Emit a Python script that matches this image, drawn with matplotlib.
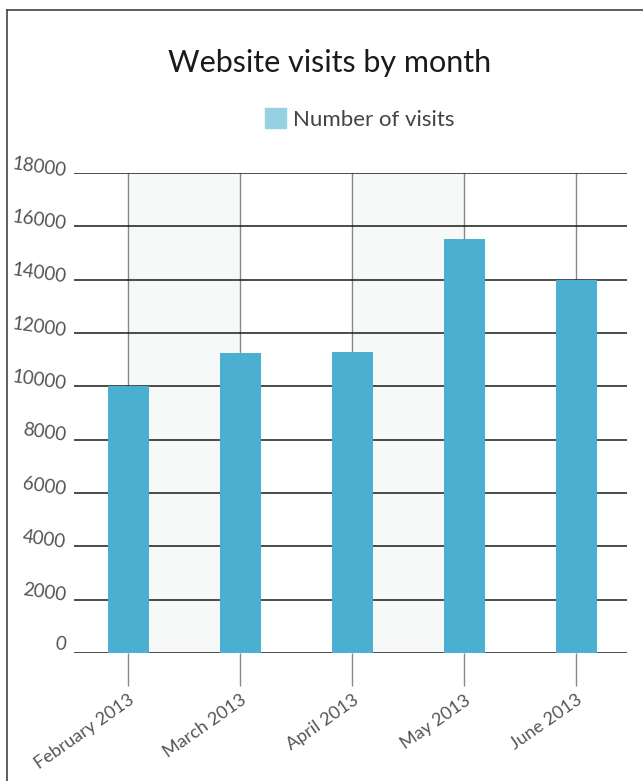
import matplotlib
matplotlib.use('Agg')
import matplotlib.pyplot as plt
from matplotlib.lines import Line2D
from matplotlib.patches import Patch
from matplotlib.transforms import ScaledTranslation

months = ['February 2013', 'March 2013', 'April 2013', 'May 2013', 'June 2013']
visits = [10000, 11250, 11290, 15520, 14000]
y_ticks = [0, 2000, 4000, 6000, 8000, 10000, 12000, 14000, 16000, 18000]

plt.rcParams['font.family'] = ['Lato', 'DejaVu Sans']

fig = plt.figure(figsize=(6.43, 7.81), dpi=100)
ax = fig.add_axes([74 / 643, 128 / 781, 553 / 643, 480 / 781])

x = list(range(len(months)))

# alternating shaded columns
for i in range(0, len(months) - 1, 2):
    ax.axvspan(x[i], x[i + 1], color='#f7f9f9', zorder=0)

ax.bar(x, visits, width=0.366, color='#4aafd0', zorder=3)

ax.set_xlim(-0.485, 4.453)
ax.set_ylim(0, 18000)
ax.set_yticks(y_ticks)
ax.set_yticklabels([str(v) for v in y_ticks], rotation=-8, color='#555555', fontsize=13.5)
ax.set_xticks(x)
ax.set_xticklabels(months, rotation=35, ha='right', rotation_mode='anchor',
                   color='#555555', fontsize=13)

ax.grid(axis='y', color='#1a1a1a', linewidth=1.1, zorder=1)
ax.grid(axis='x', color='#888888', linewidth=1.0, zorder=1)
ax.tick_params(axis='y', length=0, pad=5)
ax.tick_params(axis='x', length=24, color='#888888', width=1.0, pad=4)
for s in ax.spines.values():
    s.set_visible(False)

for lab in ax.get_yticklabels():
    lab.set_transform(lab.get_transform() + ScaledTranslation(0, 8 / 72, fig.dpi_scale_trans))

fig.text(330 / 643, 1 - 63 / 781, 'Website visits by month', ha='center', va='center',
         fontsize=22, color='#1a1a1a')

fig.legend(handles=[Patch(color='#95d0e3', label='Number of visits')],
           loc='center', bbox_to_anchor=(360 / 643, 1 - 119 / 781), frameon=False,
           prop={'size': 16}, handlelength=0.95, handleheight=0.95,
           handletextpad=0.3, labelcolor='#444444')

# outer frame (left and top only)
fig.add_artist(Line2D([7 / 643, 7 / 643], [0, 1 - 10 / 781], color='#444444', lw=1.2))
fig.add_artist(Line2D([7 / 643, 1], [1 - 10 / 781, 1 - 10 / 781], color='#444444', lw=1.2))

fig.savefig('out.png', dpi=100)
